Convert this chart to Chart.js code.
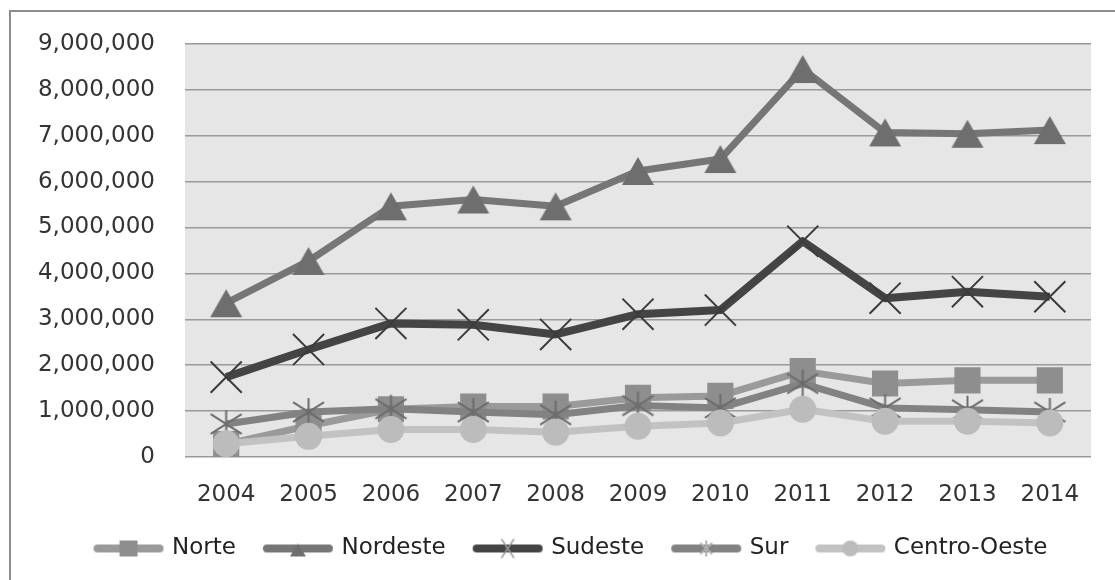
<!DOCTYPE html>
<html>
<head>
<meta charset="utf-8">
<title>Regiones 2004-2014</title>
<script src="https://cdn.jsdelivr.net/npm/chart.js@4.4.1/dist/chart.umd.min.js"></script>
<style>
  body { margin: 0; background: #fff; }
  #marco { position: absolute; left: 9px; top: 10px; width: 1200px; height: 700px; border: 2px solid #8c8c8c; }
  #lienzo { position: absolute; left: 0; top: 0; }
</style>
</head>
<body>
<div id="marco"></div>
<canvas id="lienzo" width="1115" height="580"></canvas>
<script>
// Datos
const anios = ['2004', '2005', '2006', '2007', '2008', '2009', '2010', '2011', '2012', '2013', '2014'];
const norte = [280000, 680000, 1040000, 1100000, 1100000, 1290000, 1330000, 1870000, 1600000, 1670000, 1670000];
const nordeste = [3350000, 4270000, 5460000, 5610000, 5460000, 6230000, 6490000, 8450000, 7070000, 7040000, 7120000];
const sudeste = [1740000, 2340000, 2910000, 2880000, 2670000, 3110000, 3200000, 4700000, 3460000, 3600000, 3490000];
const sur = [720000, 980000, 1050000, 980000, 920000, 1120000, 1070000, 1600000, 1070000, 1030000, 980000];
const centroOeste = [290000, 450000, 600000, 600000, 540000, 670000, 740000, 1040000, 780000, 780000, 740000];

//Crea un canvas pequeño y deja dibujar en el
const lienzoChico = (ancho, alto, dibujar) => {
  const c = document.createElement('canvas');
  c.width = ancho;
  c.height = alto;
  dibujar(c.getContext('2d'));
  return c;
}

// Marcador triangulo (centrado en su caja, como en Excel)
const triangulo = (ancho, alto, color) => lienzoChico(ancho + 2, alto + 2, (g) => {
  g.fillStyle = color;
  g.beginPath();
  g.moveTo(1 + ancho / 2, 1);
  g.lineTo(1 + ancho, 1 + alto);
  g.lineTo(1, 1 + alto);
  g.closePath();
  g.fill();
});

// Marcador asterisco: linea vertical + X
const asterisco = (ancho, alto, color) => lienzoChico(ancho + 4, alto + 4, (g) => {
  g.strokeStyle = color;
  g.lineWidth = 2;
  g.beginPath();
  g.moveTo(2 + ancho / 2, 2);
  g.lineTo(2 + ancho / 2, 2 + alto);
  g.moveTo(2, 2 + alto * 0.15);
  g.lineTo(2 + ancho, 2 + alto * 0.85);
  g.moveTo(2, 2 + alto * 0.85);
  g.lineTo(2 + ancho, 2 + alto * 0.15);
  g.stroke();
});

// Iconos de la leyenda: linea gruesa con el marcador al medio
const iconoLeyenda = (colorLinea, marcador) => lienzoChico(72, 26, (g) => {
  g.strokeStyle = colorLinea;
  g.lineWidth = 8;
  g.lineCap = 'round';
  g.beginPath();
  g.moveTo(5, 13);
  g.lineTo(67, 13);
  g.stroke();
  marcador(g);
});

const iconos = [
  iconoLeyenda('#9a9a9a', (g) => { g.fillStyle = '#8e8e8e'; g.fillRect(27, 5, 18, 16); }),
  iconoLeyenda('#767676', (g) => { g.drawImage(triangulo(16, 13, '#6e6e6e'), 27, 7); }),
  iconoLeyenda('#444444', (g) => {
    g.strokeStyle = '#9a9a9a'; g.lineWidth = 1.5; g.beginPath();
    g.moveTo(30, 4); g.lineTo(42, 22); g.moveTo(42, 4); g.lineTo(30, 22); g.stroke();
  }),
  iconoLeyenda('#828282', (g) => { g.drawImage(asterisco(12, 16, '#b0b0b0'), 28, 3); }),
  iconoLeyenda('#c2c2c2', (g) => { g.fillStyle = '#bcbcbc'; g.beginPath(); g.arc(36, 13, 8, 0, Math.PI * 2); g.fill(); })
];

// Pinta el fondo gris del area de trazado
const fondoArea = {
  id: 'fondoArea',
  beforeDraw(chart) {
    const { ctx, chartArea: a } = chart;
    ctx.save();
    ctx.fillStyle = '#e6e6e6';
    ctx.fillRect(a.left, a.top, a.right - a.left, a.bottom - a.top);
    ctx.restore();
  }
};

// Corre la leyenda un poco a la derecha, como en el original
const moverLeyenda = {
  id: 'moverLeyenda',
  afterLayout(chart) {
    chart.legend.left += 17;
    chart.legend.right += 17;
  }
};

const serie = (nombre, datos, color, extra) => Object.assign({
  label: nombre,
  data: datos,
  borderColor: color,
  backgroundColor: color,
  borderWidth: 7,
  tension: 0,
  borderJoinStyle: 'round',
  pointBorderWidth: 0,
  pointHoverRadius: 0
}, extra);

new Chart(document.getElementById('lienzo'), {
  type: 'line',
  data: {
    labels: anios,
    datasets: [
      serie('Norte', norte, '#9a9a9a', { order: 5, pointStyle: 'rect', pointRadius: 18.5, pointBackgroundColor: '#8e8e8e' }),
      serie('Nordeste', nordeste, '#767676', { order: 4, pointStyle: triangulo(32, 28, '#6e6e6e'), pointRadius: 16 }),
      serie('Sudeste', sudeste, '#444444', { order: 3, borderWidth: 8, pointStyle: 'crossRot', pointRadius: 22, pointBorderWidth: 2, pointBorderColor: '#3c3c3c' }),
      serie('Sur', sur, '#828282', { order: 2, pointStyle: asterisco(31, 28, '#6c6c6c'), pointRadius: 16 }),
      serie('Centro-Oeste', centroOeste, '#c2c2c2', { order: 1, pointStyle: 'circle', pointRadius: 13.5, pointBackgroundColor: '#bcbcbc' })
    ]
  },
  options: {
    responsive: false,
    animation: false,
    devicePixelRatio: 1,
    layout: { padding: { left: 15, right: 20, top: 41, bottom: 10 } },
    scales: {
      x: {
        offset: true,
        grid: { display: false },
        border: { display: false },
        ticks: { color: '#333', font: { family: 'DejaVu Sans', size: 23 }, padding: 16, maxRotation: 0 },
        afterFit: (s) => { s.height = 50; }
      },
      y: {
        min: 0,
        max: 9000000,
        grid: { color: '#9a9a9a', lineWidth: 1.5, drawTicks: false },
        border: { display: false },
        ticks: {
          stepSize: 1000000,
          color: '#333',
          font: { family: 'DejaVu Sans', size: 23 },
          padding: 30,
          callback: (v) => v.toLocaleString('en-US')
        },
        afterFit: (s) => { s.width = 170; }
      }
    },
    plugins: {
      tooltip: { enabled: false },
      legend: {
        position: 'bottom',
        labels: {
          usePointStyle: true,
          pointStyleWidth: 64,
          padding: 30,
          color: '#222',
          font: { family: 'DejaVu Sans', size: 23 },
          sort: (a, b) => a.datasetIndex - b.datasetIndex,
          generateLabels: (chart) => {
            const items = Chart.defaults.plugins.legend.labels.generateLabels(chart);
            items.forEach((it) => { it.pointStyle = iconos[it.datasetIndex]; });
            return items;
          }
        }
      }
    }
  },
  plugins: [fondoArea, moverLeyenda]
});
</script>
</body>
</html>
